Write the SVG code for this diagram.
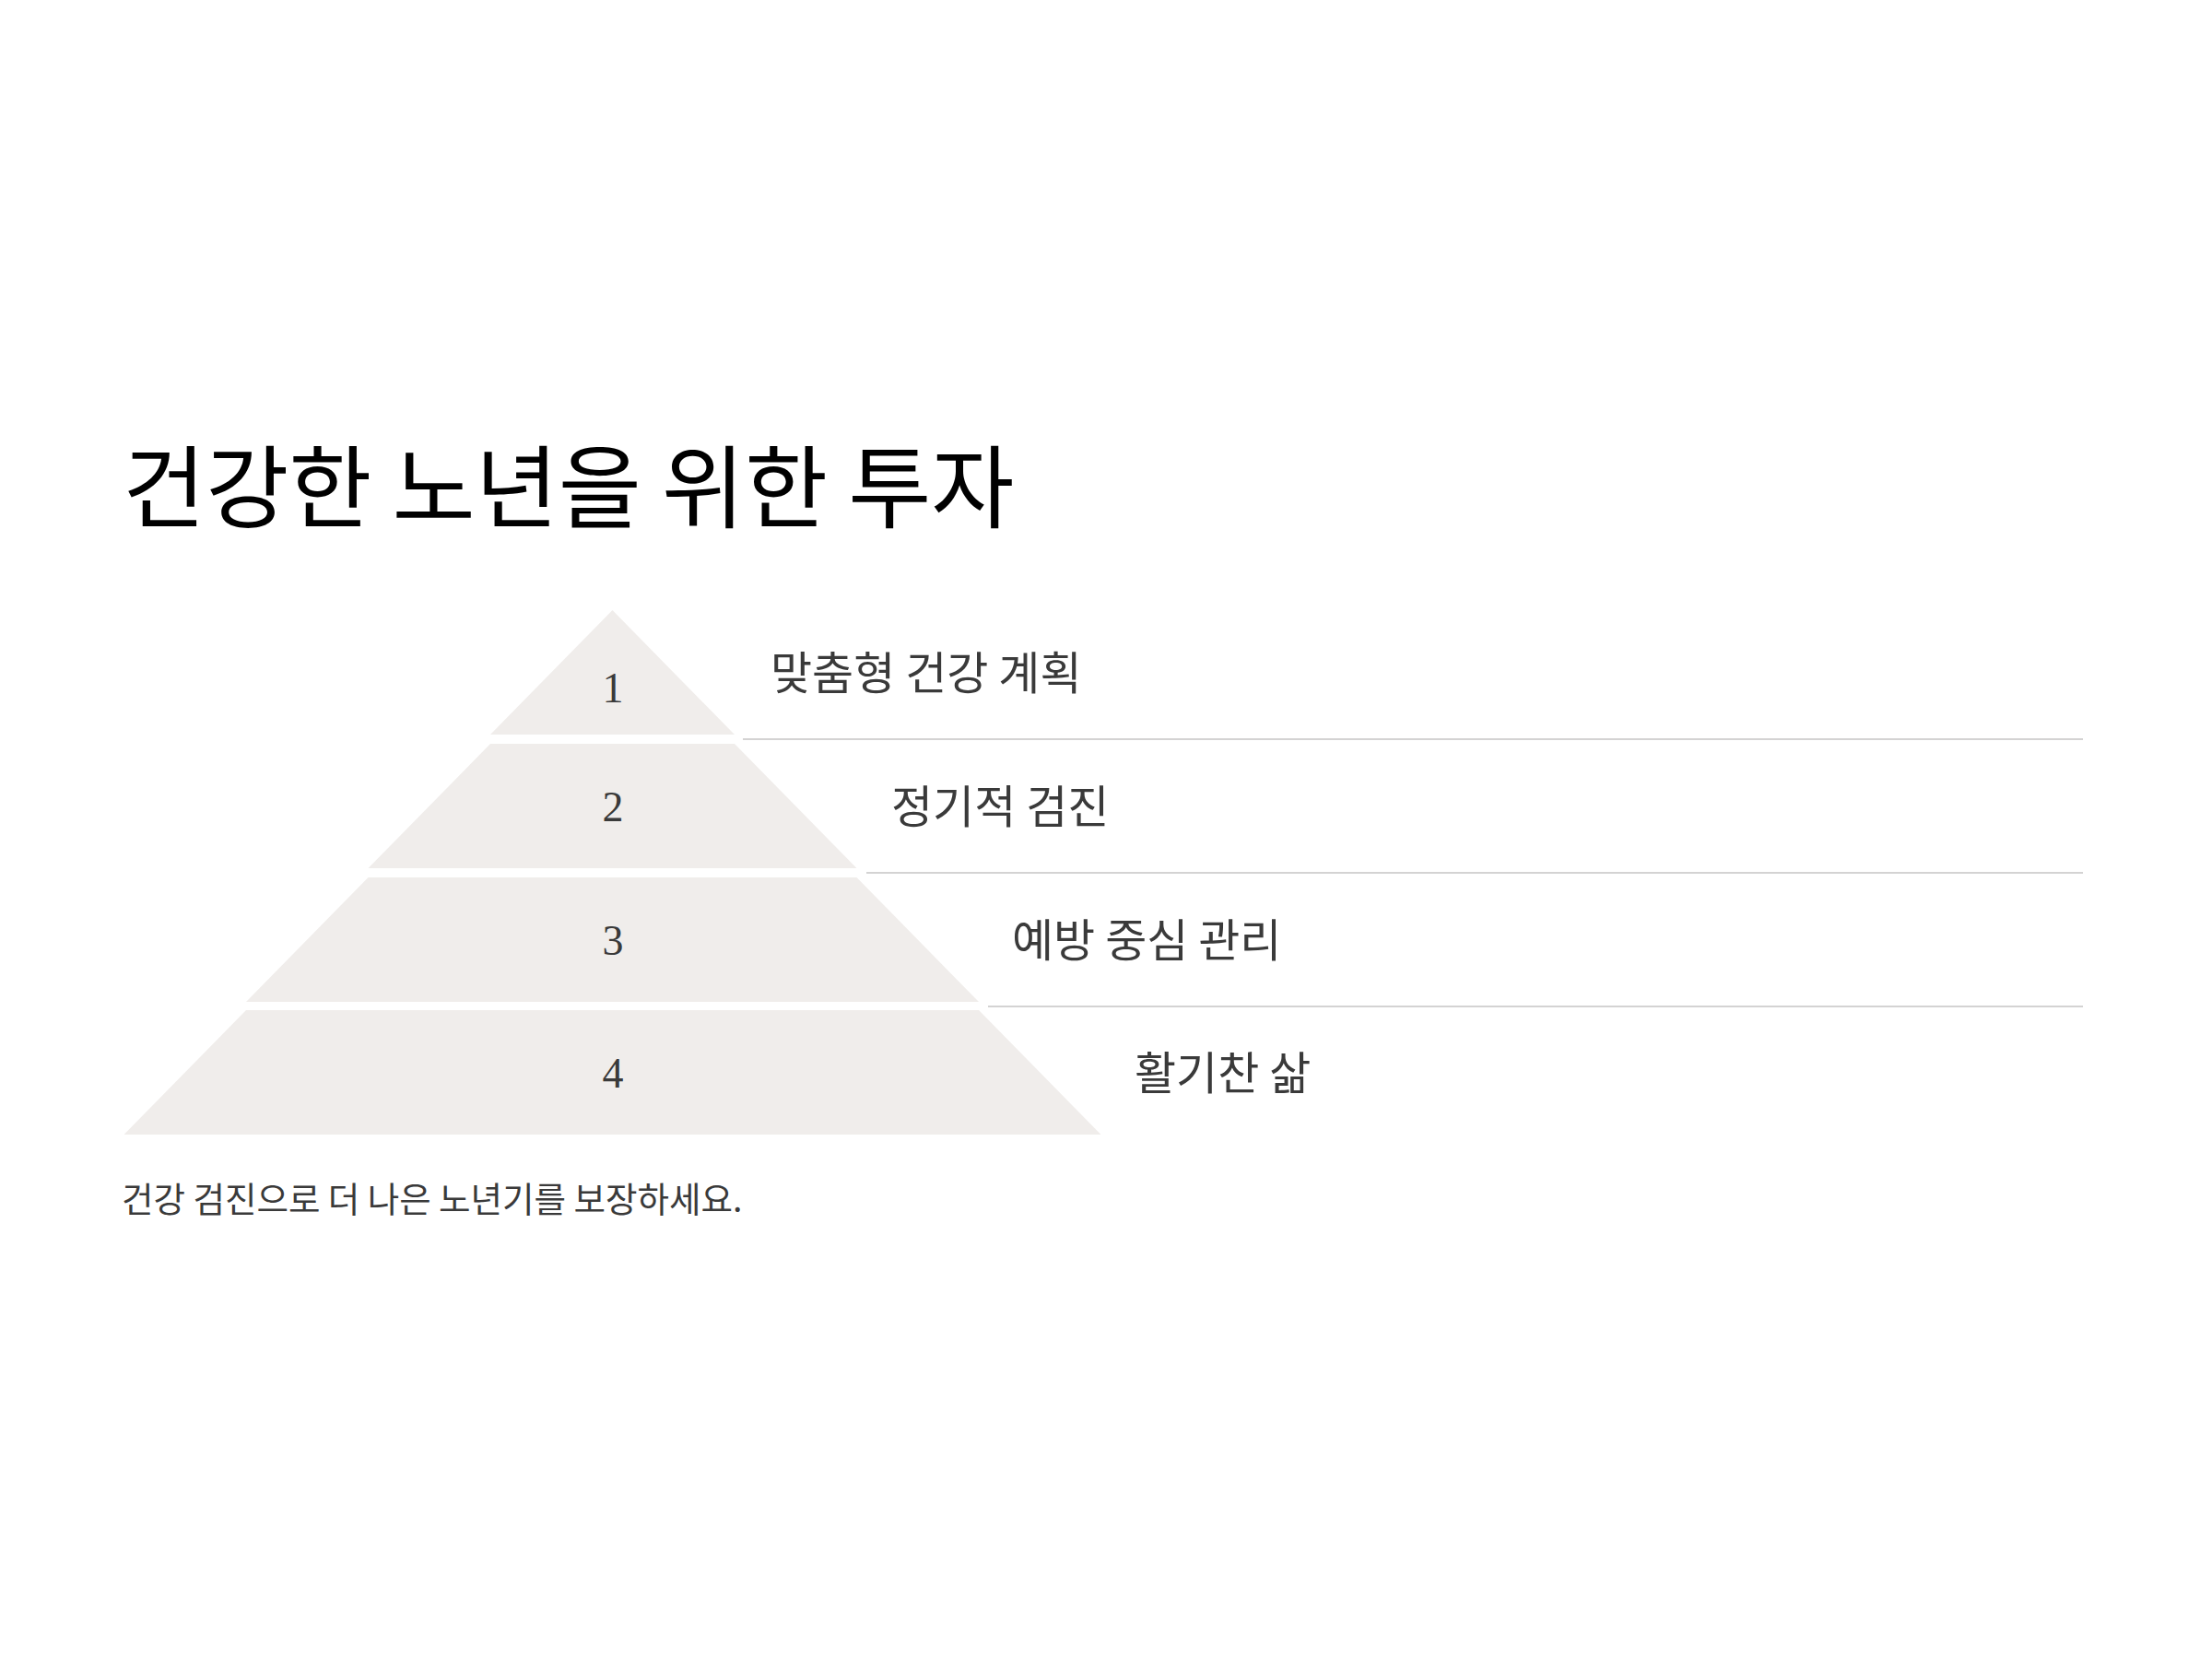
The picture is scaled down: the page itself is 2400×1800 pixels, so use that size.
<svg xmlns="http://www.w3.org/2000/svg" width="2400" height="1800" viewBox="0 0 2400 1800">
<style>
.tier{fill:#f0edeb;}
.num{font-family:"Liberation Serif","Noto Serif",serif;font-size:46px;fill:#3a3a3a;text-anchor:middle;}
.lbl{font-family:"Noto Sans CJK KR","Noto Sans",sans-serif;font-size:49px;fill:#3a3a3a;}
.sep{stroke:#d4d3d3;stroke-width:2;fill:none;}
.title{font-family:"Noto Sans CJK KR","Noto Sans",sans-serif;font-size:98px;fill:#000000;}
.foot{font-family:"Noto Sans CJK KR","Noto Sans",sans-serif;font-size:37.5px;fill:#3a3a3a;}
</style>
<rect width="2400" height="1800" fill="#ffffff"/>
<text id="title" class="title" x="133" y="565">건강한 노년을 위한 투자</text>
<g id="connectors">
<line class="sep" x1="806" y1="802" x2="2260" y2="802"/>
<line class="sep" x1="940" y1="947" x2="2260" y2="947"/>
<line class="sep" x1="1072" y1="1092" x2="2260" y2="1092"/>
</g>
<g id="tier1">
<polygon class="tier" points="664.5,662 797,797 532,797"/>
<text class="num" x="665" y="762">1</text>
<text class="lbl" x="836" y="748">맞춤형 건강 계획</text>
</g>
<g id="tier2">
<polygon class="tier" points="532,807 797,807 929.5,942 399.5,942"/>
<text class="num" x="665" y="891">2</text>
<text class="lbl" x="967" y="893">정기적 검진</text>
</g>
<g id="tier3">
<polygon class="tier" points="399.5,952 929.5,952 1062,1087 267,1087"/>
<text class="num" x="665" y="1036">3</text>
<text class="lbl" x="1098" y="1038">예방 중심 관리</text>
</g>
<g id="tier4">
<polygon class="tier" points="267,1096 1062,1096 1194.5,1231 134.5,1231"/>
<text class="num" x="665" y="1180">4</text>
<text class="lbl" x="1231" y="1182">활기찬 삶</text>
</g>
<text id="footer" class="foot" x="132" y="1315">건강 검진으로 더 나은 노년기를 보장하세요.</text>
</svg>
